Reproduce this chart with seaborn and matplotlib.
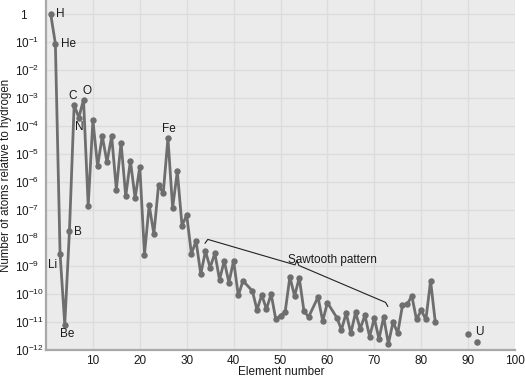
import numpy as np
import pandas as pd
import matplotlib
matplotlib.use("Agg")
import matplotlib.pyplot as plt
import seaborn as sns

# element numbers on the connected curve (Tc, La, Pm not shown)
z_main = list(range(1, 43)) + list(range(44, 57)) + [58, 59, 60] + list(range(62, 84))
# log10 of abundance relative to hydrogen
log_main = [0.00, -1.06, -8.56, -11.09, -7.75, -3.25, -3.70, -3.06, -6.85, -3.79,
            -5.44, -4.36, -5.29, -4.36, -6.27, -4.59, -6.51, -5.24, -6.58, -5.45,
            -8.59, -6.82, -7.86, -6.11, -6.40, -4.43, -6.92, -5.62, -7.56, -7.18,
            -8.56, -8.11, -9.29, -8.47, -9.06, -8.54, -9.49, -8.82, -9.59, -8.81,
            -10.05, -9.53,
            -9.89, -10.57, -10.03, -10.54, -10.00, -10.91, -10.77, -10.63, -9.39, -10.07,
            -9.42, -10.61, -10.82,
            -10.11, -10.97, -10.31,
            -10.84, -11.28, -10.68, -11.40, -10.66, -11.24, -10.76, -11.52, -10.87, -11.60,
            -10.82, -11.78, -11.00, -11.40, -10.41, -10.37, -10.07, -10.91, -10.58, -10.91,
            -9.53, -11.00]

# Th and U, plotted as loose points
z_heavy = [90, 92]
log_heavy = [-11.44, -11.71]

# labelled elements: symbol, Z, text offset in points, alignment
labels = [("H", 1, (4, 0), "left", "center"),
          ("He", 2, (4, 0), "left", "center"),
          ("Li", 3, (-2, -8), "right", "center"),
          ("Be", 4, (1.5, -6.5), "center", "center"),
          ("B", 5, (3.5, -0.5), "left", "center"),
          ("C", 6, (-0.8, 6.2), "center", "center"),
          ("N", 7, (0, -7), "center", "center"),
          ("O", 8, (2.3, 6.3), "center", "center"),
          ("Fe", 26, (1, 6.2), "center", "center"),
          ("U", 92, (-2, 7), "left", "center")]

# bracket over the sawtooth region (Z, log10 value)
brace_z = [33.9, 34.5, 53.1, 53.5, 53.9, 72.4, 72.9]
brace_log = [-8.19, -8.05, -8.96, -8.80, -8.98, -10.30, -10.45]
brace_text = "Sawtooth pattern"
brace_text_pos = (61.0, -8.89)

yticks_exp = list(range(-12, 1))
xticks = list(range(10, 101, 10))

df = pd.DataFrame({"z": z_main, "abund": 10.0 ** np.array(log_main)})
df_heavy = pd.DataFrame({"z": z_heavy, "abund": 10.0 ** np.array(log_heavy)})

sns.set_theme(style="darkgrid", rc={"axes.facecolor": "#ebebeb",
                                    "grid.color": "#dcdcdc",
                                    "grid.linewidth": 1.0})
plt.rcParams["font.family"] = ["Liberation Sans", "DejaVu Sans"]
plt.rcParams["mathtext.fontset"] = "custom"
plt.rcParams["mathtext.rm"] = "Liberation Sans"
plt.rcParams["mathtext.it"] = "Liberation Sans:italic"
plt.rcParams["mathtext.bf"] = "Liberation Sans:bold"

line_col = "#6e6e6e"
txt_col = "#1a1a1a"
fs = 8.5

fig = plt.figure(figsize=(5.25, 3.8), dpi=100)
ax = fig.add_axes([46 / 525, 30 / 380, 469 / 525, 350 / 380])

sns.lineplot(data=df, x="z", y="abund", ax=ax, estimator=None, color=line_col,
             linewidth=2.0, marker="o", markersize=4.6, markeredgewidth=0)
sns.scatterplot(data=df_heavy, x="z", y="abund", ax=ax, color=line_col, s=22,
                linewidth=0)

ax.set_yscale("log")
ax.set_xlim(0, 100)
ax.set_ylim(1e-12, 10 ** 0.5)
ax.set_xticks(xticks)
ax.set_yticks([10.0 ** e for e in yticks_exp])
ax.yaxis.set_minor_locator(matplotlib.ticker.NullLocator())
ax.set_yticklabels([r"$\;\;1$" if e == 0 else rf"$10^{{{e}}}$" for e in yticks_exp])
ax.tick_params(axis="y", length=0, pad=22.3, labelsize=fs, labelcolor=txt_col)
ax.tick_params(axis="x", length=0, pad=3.5, labelsize=fs, labelcolor=txt_col)
for lab in ax.get_yticklabels():
    lab.set_horizontalalignment("left")

ax.set_xlabel("Element number", fontsize=fs, color=txt_col)
ax.set_ylabel("Number of atoms relative to hydrogen", fontsize=8.3, color=txt_col)
ax.xaxis.set_label_coords(0.502, -0.047)
ax.yaxis.set_label_coords(-0.073, 0.5)

for side in ["top", "right"]:
    ax.spines[side].set_visible(False)
for side in ["left", "bottom"]:
    ax.spines[side].set_visible(True)
    ax.spines[side].set_color("#a8a8a8")
    ax.spines[side].set_linewidth(1.6)

all_z = z_main + z_heavy
all_log = log_main + log_heavy
for sym, z, off, ha, va in labels:
    y = 10.0 ** all_log[all_z.index(z)]
    ax.annotate(sym, (z, y), xytext=off, textcoords="offset points",
                ha=ha, va=va, fontsize=fs, color=txt_col)

ax.plot(brace_z, 10.0 ** np.array(brace_log), color="#222222", lw=0.8)
ax.text(brace_text_pos[0], 10 ** brace_text_pos[1], brace_text, ha="center",
        va="baseline", fontsize=fs, color=txt_col)

fig.savefig("out.png", dpi=100)
